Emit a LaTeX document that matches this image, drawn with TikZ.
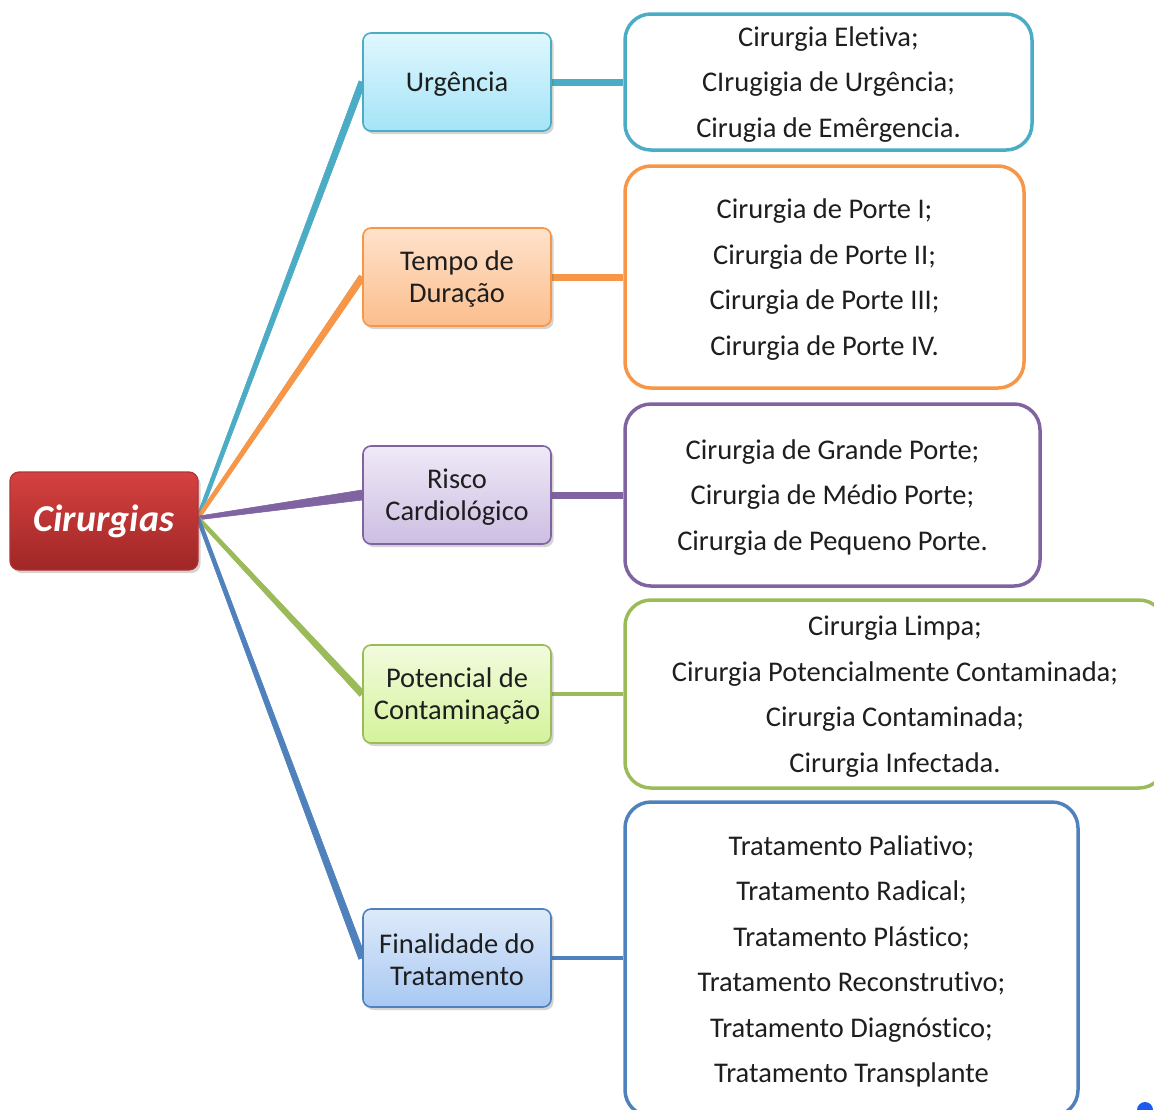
\documentclass[tikz,border=0pt]{standalone}
\usepackage{fontspec}
\setmainfont{Carlito}[Ligatures=NoCommon]
\usetikzlibrary{calc,shadows,backgrounds}
\definecolor{cyB}{HTML}{4BACC6}
\definecolor{orB}{HTML}{F79646}
\definecolor{puB}{HTML}{8064A2}
\definecolor{grB}{HTML}{9BBB59}
\definecolor{blB}{HTML}{4F81BD}
\definecolor{reB}{HTML}{B33232}
\definecolor{txt}{HTML}{1E1E1E}
\definecolor{dotB}{HTML}{1E5AF0}
\tikzset{
  shad/.style={drop shadow={shadow xshift=2.5pt,shadow yshift=-3pt,opacity=0.28,fill=black!60}},
  mid/.style={shad,rounded corners=8pt,minimum width=188pt,minimum height=98pt,line width=1.6pt,inner sep=0pt},
  midtext/.style={align=center,font=\fontsize{28.5}{32}\selectfont,text=txt,inner sep=0pt,yshift=-2pt},
  listbox/.style={rounded corners=26pt,line width=3.5pt,fill=white,inner sep=0pt},
  listtext/.style={align=center,font=\fontsize{28.5}{45.5}\selectfont,text=txt,inner sep=0pt,yshift=-2.5pt},
  wedgeline/.style={line width=0.5pt},
  hline/.style={line width=7pt},
}
\begin{document}
\begin{tikzpicture}[x=1pt,y=-1pt]
\useasboundingbox (0,0) rectangle (1154,1109);
\clip (0,0) rectangle (1154,1109);

% root
\node[shad,rounded corners=9pt,minimum width=188pt,minimum height=98pt,draw=reB,line width=1.2pt,
  top color={rgb,255:red,212;green,66;blue,64},bottom color={rgb,255:red,160;green,38;blue,38},
  text=white,font=\fontsize{38}{40}\selectfont\bfseries\itshape] (root) at (104,521) {\raisebox{-3pt}{Cirurgias}};
\coordinate (hub) at (198,518);

% middle nodes
\node[mid,draw=cyB,top color={rgb,255:red,224;green,247;blue,254},bottom color={rgb,255:red,164;green,228;blue,247}] (u) at (457,82) {};
\node[mid,draw=orB,top color={rgb,255:red,255;green,226;blue,204},bottom color={rgb,255:red,251;green,190;blue,140}] (t) at (457,277) {};
\node[mid,draw=puB,top color={rgb,255:red,239;green,233;blue,247},bottom color={rgb,255:red,205;green,190;blue,226}] (r) at (457,495) {};
\node[mid,draw=grB,top color={rgb,255:red,242;green,251;blue,222},bottom color={rgb,255:red,212;green,243;blue,155}] (p) at (457,694) {};
\node[mid,draw=blB,top color={rgb,255:red,222;green,234;blue,250},bottom color={rgb,255:red,168;green,200;blue,242}] (f) at (457,958) {};
\node[midtext] (ut) at (u.center) {Urgência};
\node[midtext] (tt) at (t.center) {Tempo de\\Duração};
\node[midtext] (rt) at (r.center) {Risco\\Cardiológico};
\node[midtext] (pt) at (p.center) {Potencial de\\Contaminação};
\node[midtext] (ft) at (f.center) {Finalidade do\\Tratamento};

% list boxes
\node[listbox,draw=cyB,minimum width=407pt,minimum height=136pt] (lu) at (828.5,82) {};
\node[listbox,draw=orB,minimum width=399pt,minimum height=222pt] (lt) at (824.5,277) {};
\node[listbox,draw=puB,minimum width=415pt,minimum height=182pt] (lr) at (832.5,495) {};
\node[listbox,draw=grB,minimum width=540pt,minimum height=188pt] (lp) at (895,694) {};
\node[listbox,draw=blB,minimum width=453pt,minimum height=314pt] (lf) at (851.5,959) {};
\node[listtext] (lut) at (lu.center) {Cirurgia Eletiva;\\CIrugigia de Urgência;\\Cirugia de Emêrgencia.};
\node[listtext] (ltt) at (lt.center) {Cirurgia de Porte I;\\Cirurgia de Porte II;\\Cirurgia de Porte III;\\Cirurgia de Porte IV.};
\node[listtext] (lrt) at (lr.center) {Cirurgia de Grande Porte;\\Cirurgia de Médio Porte;\\Cirurgia de Pequeno Porte.};
\node[listtext] (lpt) at (lp.center) {Cirurgia Limpa;\\Cirurgia Potencialmente Contaminada;\\Cirurgia Contaminada;\\Cirurgia Infectada.};
\node[listtext] (lft) at (lf.center) {Tratamento Paliativo;\\Tratamento Radical;\\Tratamento Plástico;\\Tratamento Reconstrutivo;\\Tratamento Diagnóstico;\\Tratamento Transplante};

\begin{pgfonlayer}{background}
\foreach \n/\c/\w in {u/cyB/3.4pt,t/orB/3.4pt,r/puB/5pt,p/grB/3.4pt,f/blB/3.6pt}{
  \filldraw[black!30,opacity=0.5,shift={(2pt,-2.5pt)}] ($(hub)!1.8pt!90:(\n.west)$) -- ($(\n.west)!\w!-90:(hub)$)
     -- ($(\n.west)!\w!90:(hub)$) -- ($(hub)!1.8pt!-90:(\n.west)$) -- cycle;
  \filldraw[\c,wedgeline] ($(hub)!1.8pt!90:(\n.west)$) -- ($(\n.west)!\w!-90:(hub)$)
     -- ($(\n.west)!\w!90:(hub)$) -- ($(hub)!1.8pt!-90:(\n.west)$) -- cycle;
}
\draw[hline,cyB] (u.east) -- (u.east -| lu.west);
\draw[hline,orB] (t.east) -- (t.east -| lt.west);
\draw[hline,puB] (r.east) -- (r.east -| lr.west);
\draw[hline,grB,line width=4pt] (p.east) -- (p.east -| lp.west);
\draw[hline,blB,line width=4.5pt] (f.east) -- (f.east -| lf.west);
\end{pgfonlayer}

\fill[dotB] (1145,1110) circle (8pt);
\end{tikzpicture}
\end{document}
